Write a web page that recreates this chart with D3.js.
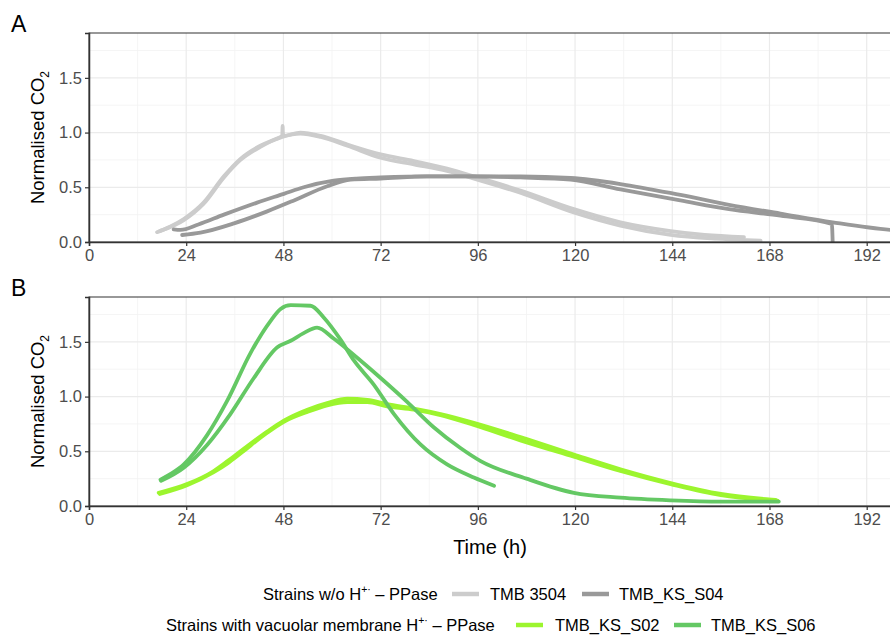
<!DOCTYPE html>
<html>
<head>
<meta charset="utf-8">
<script src="https://cdn.jsdelivr.net/npm/d3@7"></script>
<style>
body{margin:0;background:#fff;}
text{font-family:"Liberation Sans",Arial,sans-serif;}
</style>
</head>
<body>
<svg id="chart" width="890" height="639"></svg>
<script>
// data, [time h, normalised CO2]
var tmb3504_r1=[[16.8,0.09],[20,0.14],[23.4,0.21],[28.3,0.36],[33.3,0.6],[37.4,0.76],[42.3,0.88],[46,0.94],[47.7,0.97],[47.8,1.06],[47.9,0.97],[52.2,1.0],[57.2,0.97],[63.8,0.89],[72,0.8],[80.2,0.74],[88.4,0.67],[95.9,0.59],[106.5,0.47],[119.7,0.3],[131.2,0.18],[143.6,0.1],[152,0.065],[161.7,0.045]];
var tmb3504_r2=[[17.5,0.1],[23.4,0.2],[28.3,0.35],[33.3,0.59],[37.4,0.75],[42.3,0.87],[47.7,0.96],[52.2,0.99],[57.2,0.96],[63.8,0.88],[72,0.77],[80.2,0.71],[88.4,0.65],[95.9,0.57],[106.5,0.45],[119.7,0.27],[131.2,0.15],[143.6,0.065],[155,0.03],[165.8,0.012]];
var s04_r1=[[20.9,0.115],[22.6,0.11],[27,0.16],[33.3,0.25],[41.5,0.36],[48.1,0.44],[53,0.5],[60.4,0.56],[66,0.58],[72,0.59],[83.5,0.6],[95,0.6],[106.5,0.6],[118.9,0.585],[131.2,0.53],[146,0.43],[158,0.34],[170.7,0.26],[183.6,0.18],[198,0.11],[202,0.1]];
var s04_r2=[[23,0.064],[27.5,0.085],[35.8,0.17],[44,0.28],[50.6,0.38],[58.8,0.51],[64.6,0.57],[72,0.58],[83.5,0.6],[95,0.6],[106.5,0.59],[118.9,0.57],[131.2,0.48],[146,0.38],[158,0.3],[170.7,0.24],[183.4,0.165],[183.6,0.0]];
var s02_r1=[[17.2,0.12],[24.2,0.2],[30.8,0.32],[34.2,0.41],[37.4,0.5],[44,0.68],[48.1,0.78],[53.9,0.88],[58.8,0.94],[63.8,0.98],[68.7,0.97],[73.6,0.93],[80.2,0.89],[86.8,0.84],[95,0.76],[106.5,0.63],[119.7,0.47],[131.2,0.335],[143.6,0.21],[156,0.11],[169.5,0.055]];
var s02_r2=[[17.5,0.11],[24.2,0.19],[30.8,0.31],[34.2,0.39],[37.4,0.48],[44,0.67],[48.1,0.77],[53.9,0.86],[58.8,0.92],[63.8,0.95],[68.7,0.95],[73.6,0.91],[80.2,0.88],[86.8,0.83],[95,0.74],[106.5,0.6],[119.7,0.45],[131.2,0.32],[143.6,0.2],[156,0.1],[170,0.05]];
var s06_r1=[[17.65,0.24],[20.5,0.3],[23.4,0.38],[29.2,0.65],[34.1,0.96],[39.9,1.4],[44.8,1.69],[47.3,1.8],[49.8,1.835],[54.7,1.83],[58,1.72],[62.1,1.52],[65.4,1.33],[70.3,1.11],[75.3,0.84],[81.9,0.56],[88.4,0.38],[95,0.26],[100,0.185]];
var s06_r2=[[17.8,0.23],[23.4,0.35],[29.2,0.56],[34.9,0.84],[40.7,1.17],[46.5,1.45],[49.8,1.51],[53,1.58],[56.3,1.63],[60.4,1.53],[65.4,1.38],[72,1.17],[78.6,0.95],[85.1,0.72],[91.7,0.53],[96.7,0.41],[108,0.25],[119.7,0.12],[131.2,0.076],[143.6,0.052],[156,0.04],[170.3,0.04]];

var xTicks=[0,24,48,72,96,120,144,168,192];
var yTicks=[0,0.5,1,1.5];
var strainNames=["TMB 3504","TMB_KS_S04","TMB_KS_S02","TMB_KS_S06"];
var strainColors=["#cccccc","#999999","#9cf52e","#64c864"];

var panels=[
	{label:"A",top:33,series:[[tmb3504_r1,0],[tmb3504_r2,0],[s04_r1,1],[s04_r2,1]]},
	{label:"B",top:297,series:[[s02_r1,2],[s02_r2,2],[s06_r1,3],[s06_r2,3]]}
];

var svg=d3.select("#chart");
var left=89, right=891, ph=209;
var x=d3.scaleLinear().domain([0,198]).range([left,right]);

panels.forEach(function(p,pi){
	var y=d3.scaleLinear().domain([0,1.91]).range([p.top+ph,p.top]);
	var g=svg.append("g");
	var clipId="clip"+pi;
	svg.append("clipPath").attr("id",clipId).append("rect")
		.attr("x",left).attr("y",p.top).attr("width",right-left).attr("height",ph);

	//minor grid
	d3.range(12,200,24).forEach(function(t){
		g.append("line").attr("x1",x(t)).attr("x2",x(t)).attr("y1",p.top).attr("y2",p.top+ph)
			.attr("stroke","#f3f3f3").attr("stroke-width",0.8);
	});
	[0.25,0.75,1.25,1.75].forEach(function(v){
		g.append("line").attr("x1",left).attr("x2",right).attr("y1",y(v)).attr("y2",y(v))
			.attr("stroke","#f3f3f3").attr("stroke-width",0.8);
	});
	//major grid
	xTicks.forEach(function(t){
		g.append("line").attr("x1",x(t)).attr("x2",x(t)).attr("y1",p.top).attr("y2",p.top+ph)
			.attr("stroke","#ebebeb").attr("stroke-width",1.2);
	});
	yTicks.forEach(function(v){
		g.append("line").attr("x1",left).attr("x2",right).attr("y1",y(v)).attr("y2",y(v))
			.attr("stroke","#ebebeb").attr("stroke-width",1.2);
	});

	var line=d3.line().x(function(d){return x(d[0]);}).y(function(d){return y(d[1]);}).curve(d3.curveMonotoneX);
	var lg=g.append("g").attr("clip-path","url(#"+clipId+")");
	p.series.forEach(function(s){
		lg.append("path").datum(s[0]).attr("d",line).attr("fill","none")
			.attr("stroke",strainColors[s[1]]).attr("stroke-width",3.8)
			.attr("stroke-linejoin","round").attr("stroke-linecap","round");
	});

	//border
	g.append("rect").attr("x",left).attr("y",p.top).attr("width",right-left).attr("height",ph)
		.attr("fill","none").attr("stroke","#333").attr("stroke-width",1);

	//axes
	var xAxis=g.append("g").attr("transform","translate(0,"+(p.top+ph)+")")
		.call(d3.axisBottom(x).tickValues(xTicks).tickSize(4).tickPadding(3));
	var yAxis=g.append("g").attr("transform","translate("+left+",0)")
		.call(d3.axisLeft(y).tickValues(yTicks).tickFormat(d3.format(".1f")).tickSize(4).tickPadding(3));
	[xAxis,yAxis].forEach(function(a){
		a.select(".domain").attr("stroke","#333").attr("stroke-width",1.5);
		a.selectAll(".tick line").attr("stroke","#333").attr("stroke-width",1.2);
		a.selectAll(".tick text").attr("fill","#4d4d4d").style("font-size","16.5px");
	});

	//panel letter
	svg.append("text").attr("x",11).attr("y",p.top-1).text(p.label)
		.style("font-size","23px").attr("fill","#000");

	//y title
	var yt=svg.append("text").attr("transform","translate(44,"+(p.top+ph/2)+") rotate(-90)")
		.attr("text-anchor","middle").style("font-size","18.5px").attr("fill","#000");
	yt.append("tspan").text("Normalised CO");
	yt.append("tspan").text("2").attr("dy",5).style("font-size","12px");
});

svg.append("text").attr("x",(left+right)/2).attr("y",554).attr("text-anchor","middle")
	.style("font-size","20px").attr("fill","#000").text("Time (h)");

//legend
function legendTitle(xPos,yPos,pre){
	var t=svg.append("text").attr("x",xPos).attr("y",yPos).style("font-size","16.5px").attr("fill","#000");
	t.append("tspan").text(pre+"H");
	t.append("tspan").text("+·").attr("dy",-7).style("font-size","10.5px");
	t.append("tspan").text(" \u2013 PPase").attr("dy",7);
}
legendTitle(263,600,"Strains w/o ");
legendTitle(166,631,"Strains with vacuolar membrane ");

var legendItems=[
	{idx:0,kx:452,tx:490,y:594},
	{idx:1,kx:582,tx:619,y:594},
	{idx:2,kx:516,tx:555,y:625},
	{idx:3,kx:674,tx:711,y:625}
];
legendItems.forEach(function(it){
	svg.append("line").attr("x1",it.kx).attr("x2",it.kx+27).attr("y1",it.y).attr("y2",it.y)
		.attr("stroke",strainColors[it.idx]).attr("stroke-width",4.5);
	svg.append("text").attr("x",it.tx).attr("y",it.y+6).style("font-size","16.5px")
		.attr("fill","#000").text(strainNames[it.idx]);
});
</script>
</body>
</html>
